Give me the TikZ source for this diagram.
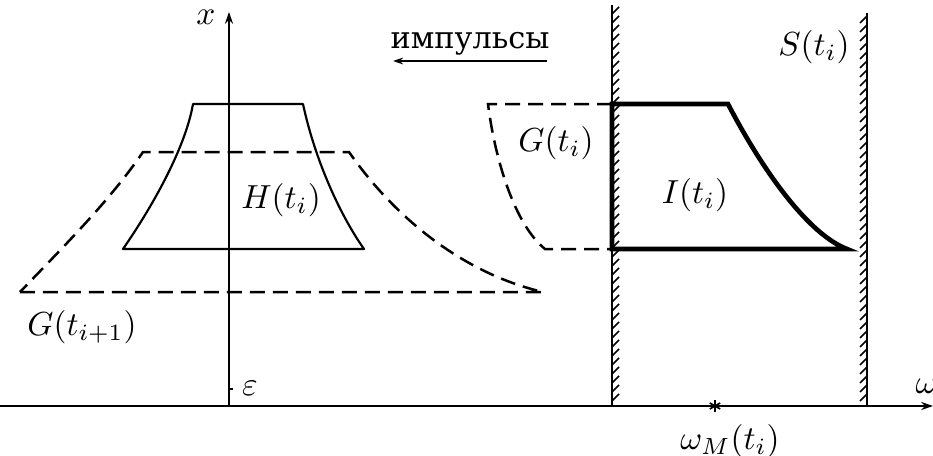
\documentclass[tikz,border=0pt]{standalone}
\usepackage{fontspec}
\newfontfamily\cyrfont{DejaVu Serif}
\usetikzlibrary{arrows.meta}
\begin{document}
\begin{tikzpicture}[x=0.3pt,y=-0.3pt,
  axis/.style={line width=0.7pt},
  thinline/.style={line width=0.65pt, line join=round},
  dashline/.style={line width=0.75pt, dash pattern=on 4.5pt off 2.4pt},
  thickline/.style={line width=1.4pt, line join=miter},
  wall/.style={line width=0.85pt},
  hatch/.style={line width=0.45pt},
  lbl/.style={inner sep=0pt},
  tip/.style={-{Stealth[length=3.5pt,width=2.4pt]}}]
\useasboundingbox (0,0) rectangle (933,456);
% axes
\coordinate (O) at (229,406);
\coordinate (xstart) at (0,406);
\coordinate (xend) at (933,406);
\coordinate (ytop) at (229,12);
\draw[axis,tip] (xstart) -- (xend);
\draw[axis,tip] (O) -- (ytop);
\coordinate (epst) at (229,389);
\draw[axis] (epst) -- ++(4,0);
\node[lbl,anchor=base] (xl) at (206,25) {$x$};
\node[lbl,anchor=base] (eps) at (250,395) {$\varepsilon$};
\node[lbl,anchor=base west] (wl) at (915,393) {$\omega$};
% impulses
\node[lbl,anchor=base] (imp) at (470,48) {\cyrfont\fontsize{9.1pt}{11pt}\selectfont импульсы};
\coordinate (ia) at (547,61);
\coordinate (ib) at (393,61);
\draw[thinline,-{Stealth[length=3pt,width=2pt]}] (ia) -- (ib);
% H(t_i)
\draw[thinline] (123,249) -- (364,249) .. controls (340,215) and (315,160) .. (303,104)
  -- (193,104) .. controls (185,150) and (150,210) .. (123,249) -- cycle;
\node[lbl] (Hl) at (281,200) {$H(t_i)$};
% G(t_{i+1})
\draw[dashline] (20,292) -- (543,292) .. controls (470,275) and (400,225) .. (349,152)
  -- (143,152) .. controls (110,200) and (70,240) .. (20,292);
\node[lbl] (G1l) at (82,327) {$G(t_{i+1})$};
% G(t_i)
\draw[dashline] (612,104) -- (488,104) .. controls (495,160) and (515,225) .. (545,249) -- (612,249);
\node[lbl] (Gl) at (556,143) {$G(t_i)$};
% walls
\draw[wall] (612,5) -- (612,406);
\foreach \y in {14,23,...,405} \draw[hatch] (612,\y) -- ++(7,-7);
\draw[wall] (867,13) -- (867,406);
\foreach \y in {16,25,...,399} \draw[hatch] (867,\y) -- ++(-7,7);
% I(t_i)
\draw[thickline] (612,249) -- (612,104) -- (728,104) .. controls (765,175) and (810,235) .. (847,249) -- cycle;
\node[lbl] (Il) at (695,195) {$I(t_i)$};
\node[lbl] (Sl) at (814,47) {$S(t_i)$};
% omega_M
\coordinate (wm) at (715,406);
\foreach \a in {90,30,150} \draw[line width=0.5pt] (wm) ++(\a:6) -- ++(\a+180:12);
\node[lbl] (wml) at (730,441) {$\omega_M(t_i)$};
\end{tikzpicture}
\end{document}
